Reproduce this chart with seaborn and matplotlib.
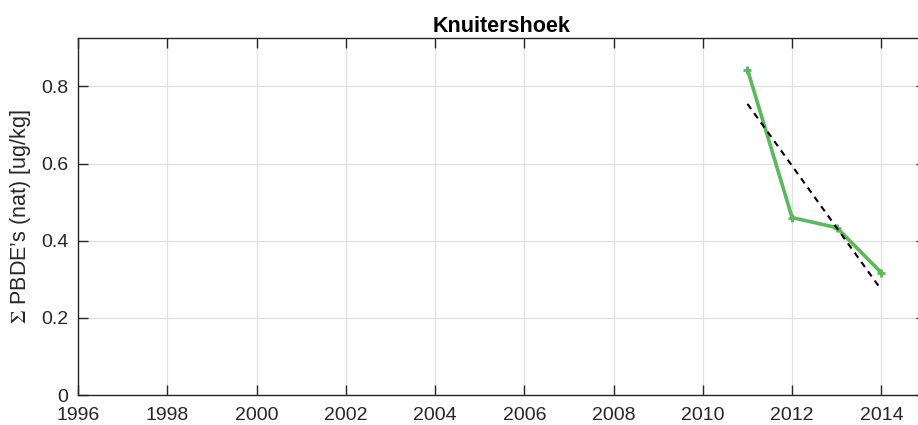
import numpy as np
import pandas as pd
import matplotlib
matplotlib.use("Agg")
import matplotlib.pyplot as plt
import seaborn as sns

# Measured totals per year
years = [2011, 2012, 2013, 2014]
pbde_totals = [0.844, 0.460, 0.434, 0.317]

station = "Knuitershoek"
x_ticks = list(range(1996, 2015, 2))
y_ticks = [0, 0.2, 0.4, 0.6, 0.8]
y_ticklabels = ["0", "0.2", "0.4", "0.6", "0.8"]

sns.set_theme(style="white")
plt.rcParams["font.family"] = ["Liberation Sans", "DejaVu Sans"]
plt.rcParams["mathtext.fontset"] = "stix"

df = pd.DataFrame({"jaar": years, "waarde": pbde_totals})

fig = plt.figure(figsize=(9.18, 4.25), dpi=100)
ax = fig.add_axes([78 / 918, 1 - 395 / 425, (926 - 78) / 918, (395 - 37.5) / 425])

# Linear trend over the measured years
coef = np.polyfit(df["jaar"], df["waarde"], 1)
trend = pd.DataFrame({"jaar": [years[0], years[-1]]})
trend["waarde"] = np.polyval(coef, trend["jaar"])

sns.lineplot(data=df, x="jaar", y="waarde", ax=ax, color="#5cb85c",
             linewidth=2.6, marker="+", markersize=6, markeredgewidth=2,
             markeredgecolor="#5cb85c", zorder=3)
sns.lineplot(data=trend, x="jaar", y="waarde", ax=ax, color="black",
             linewidth=1.5, linestyle=(0, (3, 2.5)), zorder=4)

ax.set_xlim(1996, 2015)
ax.set_ylim(0, 0.927)
ax.set_xticks(x_ticks)
ax.set_yticks(y_ticks)
ax.set_yticklabels(y_ticklabels)
ax.grid(True, color="#e0e0e0", linewidth=0.9)
ax.set_axisbelow(True)

for side in ["left", "bottom", "top", "right"]:
    ax.spines[side].set_color("#262626")
    ax.spines[side].set_linewidth(1.0)

ax.tick_params(direction="in", length=7, width=1.0, colors="#262626",
               labelsize=14, top=True, right=True, left=True, bottom=True,
               labelcolor="#262626")
ax.tick_params(axis="x", pad=9)
ax.tick_params(axis="y", pad=7)

ax.set_xlabel("")
ax.set_ylabel("$\\Sigma$ PBDE\u2019s (nat) [ug/kg]", fontsize=15.5, color="#262626",
              labelpad=6)
ax.set_title(station, fontsize=15.5, fontweight="bold", color="black", pad=4)

fig.savefig("out.png", dpi=100)
